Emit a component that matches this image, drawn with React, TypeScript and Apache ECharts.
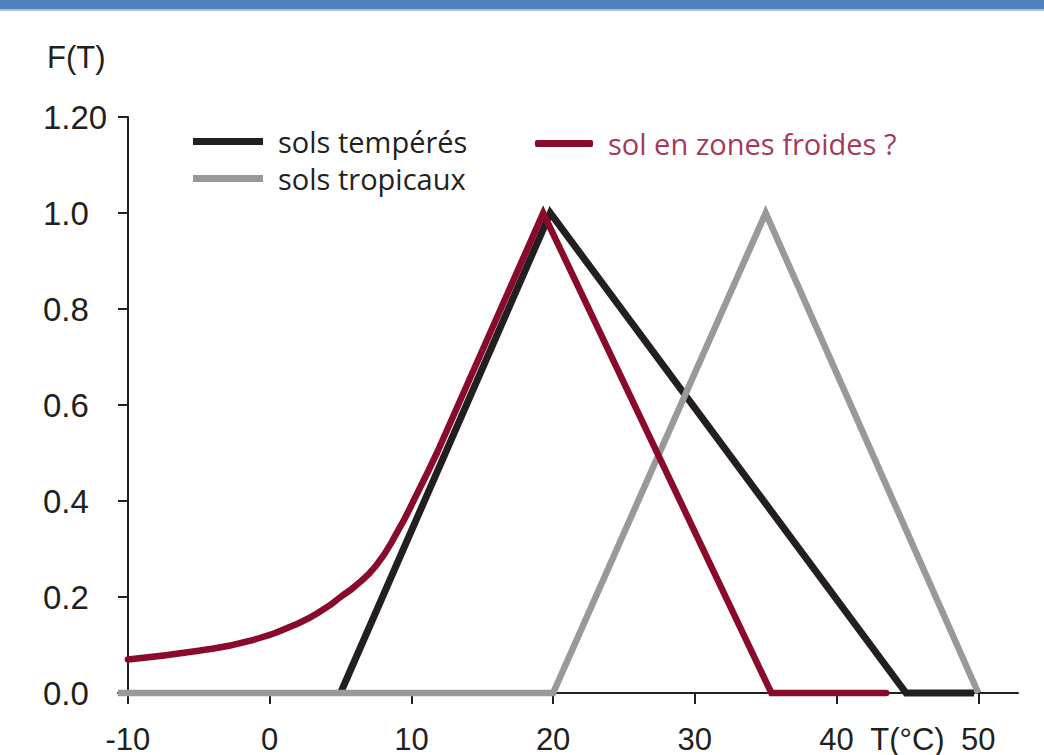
import React, { useEffect, useRef } from "react";
import * as echarts from "echarts";

const temperes: [number, number][] = [[5, 0], [19.8, 1.0], [44.9, 0], [49.7, 0]];
const tropicaux: [number, number][] = [[-10.7, 0], [20, 0], [35, 1.0], [50, 0]];
const froidesCourbe: [number, number][] = [
  [-10, 0.07], [-5, 0.088], [-1.5, 0.108], [2, 0.145], [4, 0.178], [5, 0.2],
  [6, 0.222], [7.5, 0.265], [9, 0.335], [10.4, 0.415], [11.8, 0.5],
];
const froidesDroite: [number, number][] = [[11.8, 0.5], [19.3, 1.0], [35.4, 0], [43.5, 0]];
const xTicks = [-10, 0, 10, 20, 30, 40, 50];
const xUnitPos = 45;
const xUnitLabel = "T(°C)";
const yLabelText: Record<string, string> = { "0": "0.0", "0.2": "0.2", "0.4": "0.4", "0.6": "0.6", "0.8": "0.8", "1": "1.0", "1.2": "1.20" };

const NAME_T = "sols tempérés";
const NAME_TR = "sols tropicaux";
const NAME_F = "sol en zones froides ?";

const BLACK = "#231f20";
const GREY = "#999999";
const RED = "#8a0a2b";
const RED_TEXT = "#a8375a";
const FONT = "Liberation Sans";
const LFONT = "Open Sans";

export default function App() {
  const ref = useRef<HTMLDivElement>(null);
  useEffect(() => {
    if (!ref.current) return;
    const chart = echarts.init(ref.current, null, { renderer: "svg" });
    const redStyle = { color: RED, width: 6.5, join: "miter", cap: "round" };
    chart.setOption({
      animation: false,
      backgroundColor: "#ffffff",
      title: {
        text: "F(T)",
        left: 42,
        top: 37,
        textStyle: { fontFamily: FONT, fontSize: 31, fontWeight: "normal", color: BLACK },
      },
      graphic: [
        { type: "rect", left: 0, top: 0, shape: { width: 1044, height: 9 }, style: { fill: "#4f81bd" } },
        { type: "rect", left: 0, top: 9, shape: { width: 1044, height: 2 }, style: { fill: "#a8bfdd" } },
      ],
      legend: [
        {
          orient: "vertical",
          left: 188,
          top: 122,
          itemWidth: 70,
          itemHeight: 7,
          itemGap: 8,
          icon: "rect",
          textStyle: { fontFamily: LFONT, fontSize: 29, color: BLACK, padding: [0, 0, 0, 10] },
          data: [NAME_T, NAME_TR],
        },
        {
          orient: "vertical",
          left: 530,
          top: 124,
          itemWidth: 58,
          itemHeight: 7,
          icon: "roundRect",
          textStyle: { fontFamily: LFONT, fontSize: 29, color: RED_TEXT, padding: [0, 0, 0, 10] },
          data: [NAME_F],
        },
      ],
      grid: { left: 118, right: 26, top: 117, bottom: 62 },
      xAxis: {
        type: "value",
        min: -10.7,
        max: 52.8,
        splitLine: { show: false },
        axisLine: { show: true, onZero: false, lineStyle: { color: BLACK, width: 2 } },
        axisTick: { show: true, length: 11, customValues: xTicks, lineStyle: { color: BLACK, width: 2 } },
        axisLabel: {
          customValues: [...xTicks, xUnitPos],
          margin: 34,
          lineHeight: 24,
          fontFamily: FONT,
          fontSize: 31,
          color: BLACK,
          formatter: (v: number) => (Math.abs(v - xUnitPos) < 1e-6 ? xUnitLabel : String(v)),
        },
      },
      yAxis: {
        type: "value",
        min: 0,
        max: 1.2,
        interval: 0.2,
        offset: -10,
        splitLine: { show: false },
        axisLine: { show: true, onZero: false, lineStyle: { color: BLACK, width: 2 } },
        axisTick: { show: true, length: 10, lineStyle: { color: BLACK, width: 2 } },
        axisLabel: {
          align: "left",
          margin: 85,
          fontFamily: FONT,
          fontSize: 33,
          color: BLACK,
          formatter: (v: number) => yLabelText[String(Math.round(v * 10) / 10)] ?? v.toFixed(1),
        },
      },
      series: [
        {
          name: NAME_T,
          type: "line",
          data: temperes,
          showSymbol: false,
          clip: false,
          color: BLACK,
          itemStyle: { color: BLACK },
          lineStyle: { color: BLACK, width: 7, join: "miter", cap: "butt" },
          z: 2,
        },
        {
          name: NAME_TR,
          type: "line",
          data: tropicaux,
          showSymbol: false,
          clip: false,
          color: GREY,
          itemStyle: { color: GREY },
          lineStyle: { color: GREY, width: 6.5, join: "miter", cap: "butt" },
          z: 3,
        },
        {
          name: NAME_F,
          type: "line",
          data: froidesCourbe,
          smooth: 0.5,
          showSymbol: false,
          clip: false,
          color: RED,
          itemStyle: { color: RED },
          lineStyle: redStyle,
          z: 4,
        },
        {
          name: NAME_F,
          type: "line",
          data: froidesDroite,
          showSymbol: false,
          clip: false,
          color: RED,
          itemStyle: { color: RED },
          lineStyle: redStyle,
          z: 4,
        },
      ],
    });
    return () => chart.dispose();
  }, []);
  return <div ref={ref} style={{ position: "absolute", left: 0, top: 0, width: 1044, height: 755 }} />;
}
